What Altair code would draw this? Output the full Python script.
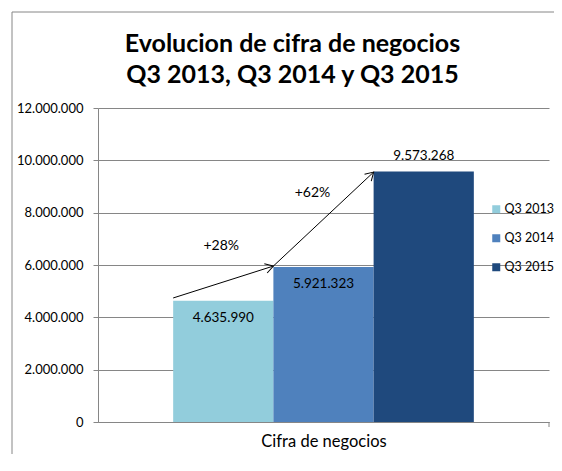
import altair as alt
import pandas as pd

# ---- data ----
series = ["Q3 2013", "Q3 2014", "Q3 2015"]
values = [4635990, 5921323, 9573268]
colors = ["#92CDDC", "#4F81BD", "#1F497D"]
inside_label_series = ["Q3 2013", "Q3 2014"]
above_label_series = ["Q3 2015"]

arrow_series = ["Q3 2013", "Q3 2014", "Q3 2015"]
arrow_values = [4740000, 5960000, 9550000]
head_series = ["Q3 2014", "Q3 2015"]
head_values = [5960000, 9550000]
head_angles = [342.7, 315.6]

growth_text = ["+28%", "+62%"]
growth_series = ["Q3 2013", "Q3 2014"]
growth_values = [6730000, 8750000]

title_lines = ["Evolucion de cifra de negocios", "Q3 2013, Q3 2014 y Q3 2015"]
x_title = "Cifra de negocios"
y_ticks = [0, 2000000, 4000000, 6000000, 8000000, 10000000, 12000000]

FONT = "Lato"
GRAY = "#868686"

bars_df = pd.DataFrame({"serie": series, "valor": values})
arrow_df = pd.DataFrame({"serie": arrow_series, "valor": arrow_values, "i": list(range(len(arrow_series)))})
head_df = pd.DataFrame({"serie": head_series, "valor": head_values, "ang": head_angles})
growth_df = pd.DataFrame({"serie": growth_series, "valor": growth_values, "txt": growth_text})
title_df = pd.DataFrame({"line": title_lines, "n": list(range(len(title_lines)))})

xscale = alt.Scale(domain=series, paddingInner=0, paddingOuter=0.75)
yscale = alt.Scale(domain=[0, 12000000])


def xenc(band=None):
    kw = {}
    if band is not None:
        kw["bandPosition"] = band
    return alt.X(
        "serie:N",
        sort=series,
        scale=xscale,
        axis=alt.Axis(
            title=x_title,
            labels=False,
            ticks=False,
            grid=False,
            domainColor=GRAY,
            titleFont=FONT,
            titleFontSize=16.5,
            titleFontWeight="normal",
            titleColor="black",
            titlePadding=11,
        ),
        **kw,
    )


yenc = alt.Y(
    "valor:Q",
    scale=yscale,
    axis=alt.Axis(
        title=None,
        values=y_ticks,
        format=",d",
        grid=True,
        gridColor=GRAY,
        domainColor=GRAY,
        tickColor=GRAY,
        tickSize=5,
        labelPadding=10,
        labelFont=FONT,
        labelFontSize=13,
        labelColor="black",
    ),
)

bars = alt.Chart(bars_df).mark_bar().encode(
    x=xenc(),
    y=yenc,
    color=alt.Color(
        "serie:N",
        scale=alt.Scale(domain=series, range=colors),
        legend=alt.Legend(
            title=None,
            orient="none",
            legendX=392,
            legendY=95,
            symbolType="square",
            symbolSize=64,
            symbolStrokeWidth=0,
            labelFont=FONT,
            labelFontSize=12.5,
            labelColor="black",
            labelOffset=2,
            rowPadding=16,
            padding=0,
        ),
    ),
)

inside_labels = alt.Chart(bars_df).transform_filter(
    alt.FieldOneOfPredicate(field="serie", oneOf=inside_label_series)
).mark_text(dy=17, font=FONT, fontSize=13.5, color="black").encode(
    x=xenc(), y=yenc, text=alt.Text("valor:Q", format=",d")
)

above_labels = alt.Chart(bars_df).transform_filter(
    alt.FieldOneOfPredicate(field="serie", oneOf=above_label_series)
).mark_text(dy=-15, font=FONT, fontSize=13.5, color="black").encode(
    x=xenc(), y=yenc, text=alt.Text("valor:Q", format=",d")
)

arrow_line = alt.Chart(arrow_df).mark_line(color="black", strokeWidth=1).encode(
    x=xenc(0), y=yenc, order="i:Q"
)

arrow_heads = alt.Chart(head_df).mark_point(
    shape="M-1,-0.6L0,0L-1,0.6", filled=False, size=256, color="black",
    strokeWidth=1, opacity=1
).encode(x=xenc(0), y=yenc, angle=alt.Angle("ang:Q", scale=None))

g1 = alt.Chart(growth_df).transform_filter(
    alt.datum.serie == growth_series[0]
).mark_text(font=FONT, fontSize=14, color="black").encode(
    x=xenc(0.48), y=yenc, text="txt:N"
)
g2 = alt.Chart(growth_df).transform_filter(
    alt.datum.serie == growth_series[1]
).mark_text(font=FONT, fontSize=14, color="black").encode(
    x=xenc(0.39), y=yenc, text="txt:N"
)

# chart frame (top and left edges) and title, placed relative to the plot area
frame_df = pd.DataFrame({"k": [0]})
frame_top = alt.Chart(frame_df).mark_rule(color=GRAY, strokeWidth=1).encode(
    x=alt.value(-86), x2=alt.value(456), y=alt.value(-96)
)
frame_left = alt.Chart(frame_df).mark_rule(color=GRAY, strokeWidth=1).encode(
    x=alt.value(-86), y=alt.value(-96), y2=alt.value(346)
)
end_ticks = alt.Chart(frame_df).mark_rule(color=GRAY, strokeWidth=1).encode(
    x=alt.value(451), y=alt.value(314), y2=alt.value(319)
)
title1 = alt.Chart(title_df).transform_filter(alt.datum.n == 0).mark_text(
    font=FONT, fontSize=25, fontWeight="bold", color="black", align="center", baseline="alphabetic"
).encode(x=alt.value(194.5), y=alt.value(-56), text="line:N")
title2 = alt.Chart(title_df).transform_filter(alt.datum.n == 1).mark_text(
    font=FONT, fontSize=25, fontWeight="bold", color="black", align="center", baseline="alphabetic"
).encode(x=alt.value(194.5), y=alt.value(-25), text="line:N")

chart = alt.layer(
    frame_top, frame_left, bars, inside_labels, above_labels, arrow_line, arrow_heads,
    g1, g2, end_ticks, title1, title2
).properties(
    width=451,
    height=314,
    autosize=alt.AutoSizeParams(type="none"),
    padding={"left": 90, "top": 100, "right": 5, "bottom": 32},
).configure(
    locale={"number": {"decimal": ",", "thousands": ".", "grouping": [3], "currency": ["", " €"]}}
).configure_view(stroke=None)

chart.save("out.html", embed_options={"renderer": "svg", "actions": False})
